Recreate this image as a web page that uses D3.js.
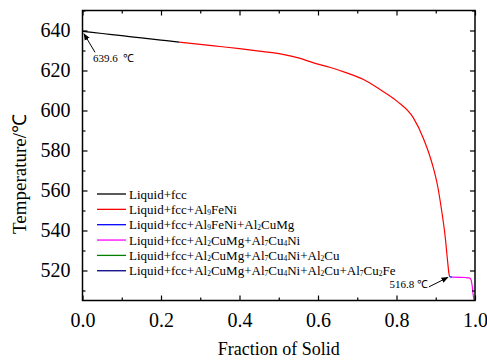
<!DOCTYPE html>
<html>
<head>
<meta charset="utf-8">
<script src="https://cdn.jsdelivr.net/npm/d3@7"></script>
</head>
<body style="margin:0;background:#fff">
<svg width="487" height="362" font-family="Liberation Serif"></svg>
<script>
// solid fraction / temperature for each phase region (Scheil curve)
const fsLiquidFcc = [0, 0.05, 0.1, 0.15, 0.2, 0.246];
const tLiquidFcc  = [639.6, 638.5, 637.4, 636.3, 635.2, 634.2];

const fsAl9FeNi = [0.246, 0.3, 0.35, 0.4, 0.45, 0.504, 0.55, 0.589, 0.63, 0.673, 0.716, 0.758, 0.801, 0.843, 0.868, 0.89, 0.905, 0.915, 0.924, 0.93, 0.934, 0.936];
const tAl9FeNi  = [634.2, 633.1, 632.0, 630.9, 629.7, 628.3, 626.3, 623.8, 621.6, 618.8, 615.5, 610.5, 604.7, 596.3, 586.3, 574, 562, 550, 537, 525, 518, 516.8];

const fsAl2CuMg = [0.936, 0.942];
const tAl2CuMg  = [516.8, 516.7];

const fsAl7Cu4Ni = [0.942, 0.96, 0.975, 0.985, 0.989, 0.991, 0.993, 0.995, 0.997];
const tAl7Cu4Ni  = [516.7, 516.6, 516.5, 516.3, 515.8, 514.5, 512, 508.5, 505.5];

const fsAl2Cu = [0.997, 0.998];
const tAl2Cu  = [505.5, 503];

const fsAl7Cu2Fe = [0.998, 0.999];
const tAl7Cu2Fe  = [503, 500];

// legend labels: [text, isSubscript]
const seriesNames = [
  [["Liquid+fcc"]],
  [["Liquid+fcc+Al"], ["9", 1], ["FeNi"]],
  [["Liquid+fcc+Al"], ["9", 1], ["FeNi+Al"], ["2", 1], ["CuMg"]],
  [["Liquid+fcc+Al"], ["2", 1], ["CuMg+Al"], ["7", 1], ["Cu"], ["4", 1], ["Ni"]],
  [["Liquid+fcc+Al"], ["2", 1], ["CuMg+Al"], ["7", 1], ["Cu"], ["4", 1], ["Ni+Al"], ["2", 1], ["Cu"]],
  [["Liquid+fcc+Al"], ["2", 1], ["CuMg+Al"], ["7", 1], ["Cu"], ["4", 1], ["Ni+Al"], ["2", 1], ["Cu+Al"], ["7", 1], ["Cu"], ["2", 1], ["Fe"]]
];
const seriesColors = ["#000000", "#ff0000", "#0000ff", "#ff00ff", "#008000", "#000080"];

const xTicks = [0, 0.2, 0.4, 0.6, 0.8, 1.0];
const yTicks = [520, 540, 560, 580, 600, 620, 640];

const FONT = "Liberation Serif";

const series = [
  [fsLiquidFcc, tLiquidFcc],
  [fsAl9FeNi, tAl9FeNi],
  [fsAl2CuMg, tAl2CuMg],
  [fsAl7Cu4Ni, tAl7Cu4Ni],
  [fsAl2Cu, tAl2Cu],
  [fsAl7Cu2Fe, tAl7Cu2Fe]
].map((s, i) => ({
  name: seriesNames[i],
  color: seriesColors[i],
  pts: s[0].map((f, j) => [f, s[1][j]])
}));

const L = 82.5, R = 475, T = 10.5, B = 300.5;
const svg = d3.select("svg");

const xs = d3.scaleLinear().domain([0, 1]).range([L, R]);
const ys = d3.scaleLinear().domain([505, 650]).range([B, T]);

svg.append("defs").append("clipPath").attr("id", "clip")
  .append("rect").attr("x", L).attr("y", T).attr("width", R - L).attr("height", B - T);

// curves
const line = d3.line().x(d => xs(d[0])).y(d => ys(d[1])).curve(d3.curveMonotoneX);
svg.append("g").attr("clip-path", "url(#clip)")
  .selectAll("path").data(series).enter().append("path")
  .attr("d", d => line(d.pts))
  .attr("fill", "none")
  .attr("stroke", d => d.color)
  .attr("stroke-width", 1.2);

// axes, ticks inward
const minorX = d3.range(0.1, 1, 0.2);
const minorY = d3.range(510, 651, 20);

function styleAxis(g) {
  g.attr("font-family", FONT).attr("font-size", 20);
  g.select(".domain").remove();
  g.selectAll("line").attr("stroke", "#000").attr("stroke-width", 1.2);
  g.selectAll("text").attr("fill", "#000").attr("font-family", FONT);
}

svg.append("g").attr("transform", "translate(0," + B + ")")
  .call(d3.axisBottom(xs).tickValues(xTicks).tickFormat(d3.format(".1f")).tickSizeInner(-5).tickPadding(12))
  .call(styleAxis);
svg.append("g").attr("transform", "translate(0," + B + ")")
  .call(d3.axisBottom(xs).tickValues(minorX).tickFormat("").tickSizeInner(-3))
  .call(styleAxis);
svg.append("g").attr("transform", "translate(0," + T + ")")
  .call(d3.axisTop(xs).tickValues(xTicks).tickFormat("").tickSizeInner(-5))
  .call(styleAxis);
svg.append("g").attr("transform", "translate(0," + T + ")")
  .call(d3.axisTop(xs).tickValues(minorX).tickFormat("").tickSizeInner(-3))
  .call(styleAxis);

svg.append("g").attr("transform", "translate(" + L + ",0)")
  .call(d3.axisLeft(ys).tickValues(yTicks).tickFormat(d3.format("d")).tickSizeInner(-5).tickPadding(12))
  .call(styleAxis);
svg.append("g").attr("transform", "translate(" + L + ",0)")
  .call(d3.axisLeft(ys).tickValues(minorY).tickFormat("").tickSizeInner(-3))
  .call(styleAxis);
svg.append("g").attr("transform", "translate(" + R + ",0)")
  .call(d3.axisRight(ys).tickValues(yTicks).tickFormat("").tickSizeInner(-5))
  .call(styleAxis);
svg.append("g").attr("transform", "translate(" + R + ",0)")
  .call(d3.axisRight(ys).tickValues(minorY).tickFormat("").tickSizeInner(-3))
  .call(styleAxis);

// frame
svg.append("rect").attr("x", L).attr("y", T).attr("width", R - L).attr("height", B - T)
  .attr("fill", "none").attr("stroke", "#000").attr("stroke-width", 1.5);

// axis titles
svg.append("text").attr("x", (L + R) / 2).attr("y", 355)
  .attr("text-anchor", "middle").attr("font-family", FONT).attr("font-size", 18)
  .text("Fraction of Solid");
svg.append("text").attr("transform", "translate(26,174) rotate(-90)")
  .attr("text-anchor", "middle").attr("font-family", FONT).attr("font-size", 19)
  .text("Temperature/\u2103");

// legend
const leg = svg.append("g");
series.forEach((s, i) => {
  const y = 194 + i * 15.35;
  leg.append("line").attr("x1", 97).attr("x2", 126).attr("y1", y).attr("y2", y)
    .attr("stroke", s.color).attr("stroke-width", 1.3);
  const t = leg.append("text").attr("x", 129).attr("y", y + 4.5)
    .attr("font-family", FONT).attr("font-size", 13);
  s.name.forEach((p, j) => {
    const sp = t.append("tspan").text(p[0]);
    if (p[1]) sp.attr("font-size", 7.5).attr("dy", 1);
    else if (j > 0 && s.name[j - 1][1]) sp.attr("dy", -1);
  });
});

// annotations
svg.append("defs").append("marker").attr("id", "arr")
  .attr("viewBox", "0 0 10 10").attr("refX", 9).attr("refY", 5)
  .attr("markerWidth", 7).attr("markerHeight", 7).attr("orient", "auto")
  .append("path").attr("d", "M0,1 L10,5 L0,9 z").attr("fill", "#000");

const p0 = [fsLiquidFcc[0], tLiquidFcc[0]];
svg.append("line")
  .attr("x1", xs(p0[0]) + 12.5).attr("y1", ys(p0[1]) + 21)
  .attr("x2", xs(p0[0]) + 1.5).attr("y2", ys(p0[1]) + 2.5)
  .attr("stroke", "#000").attr("stroke-width", 1).attr("marker-end", "url(#arr)");
svg.append("text").attr("x", xs(p0[0]) + 10.5).attr("y", ys(p0[1]) + 30.5)
  .attr("font-family", FONT).attr("font-size", 11).attr("xml:space", "preserve")
  .text("639.6  \u2103");

const p1 = [fsAl9FeNi[fsAl9FeNi.length - 1], tAl9FeNi[tAl9FeNi.length - 1]];
svg.append("line")
  .attr("x1", xs(p1[0]) - 21).attr("y1", ys(p1[1]) + 10)
  .attr("x2", xs(p1[0]) - 2).attr("y2", ys(p1[1]) + 0.5)
  .attr("stroke", "#000").attr("stroke-width", 1).attr("marker-end", "url(#arr)");
svg.append("text").attr("x", xs(p1[0]) - 22).attr("y", ys(p1[1]) + 11)
  .attr("text-anchor", "end").attr("font-family", FONT).attr("font-size", 11)
  .text("516.8 \u2103");
</script>
</body>
</html>
